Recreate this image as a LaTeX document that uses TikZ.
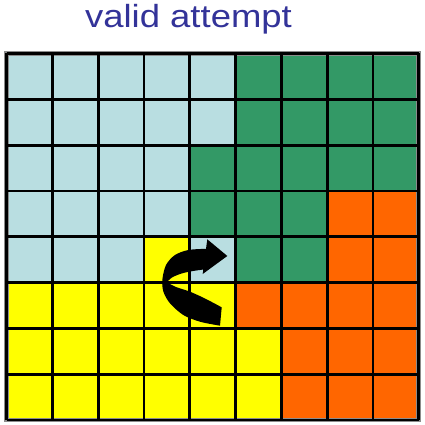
\documentclass[tikz,border=0pt]{standalone}
\usepackage{fontspec}
\setmainfont{Liberation Sans}
\definecolor{cB}{HTML}{B9DEE1}
\definecolor{cG}{HTML}{339966}
\definecolor{cO}{HTML}{FF6600}
\definecolor{cY}{HTML}{FFFF00}
\definecolor{ctitle}{HTML}{333399}
\begin{document}
\begin{tikzpicture}[x=1pt,y=-1pt,
  gridline/.style={draw=black,line width=2.8pt},
  shadowline/.style={draw=black!45,line width=4.6pt},
  titletext/.style={font=\fontsize{32}{38}\selectfont,text=ctitle,inner sep=0pt,anchor=base}]
\useasboundingbox (0,0) rectangle (424,425);
\fill[white] (0,0) rectangle (424,425);
\def\xo{6.5}
\def\yo{53.5}
\def\cw{45.8}
\node[titletext] (title) at (188.5,27.3) {\scalebox{1.14}[1]{valid attempt}};
\foreach \row/\cols in {
  0/{cB,cB,cB,cB,cB,cG,cG,cG,cG},
  1/{cB,cB,cB,cB,cB,cG,cG,cG,cG},
  2/{cB,cB,cB,cB,cG,cG,cG,cG,cG},
  3/{cB,cB,cB,cB,cG,cG,cG,cO,cO},
  4/{cB,cB,cB,cY,cB,cG,cG,cO,cO},
  5/{cY,cY,cY,cY,cY,cO,cO,cO,cO},
  6/{cY,cY,cY,cY,cY,cY,cO,cO,cO},
  7/{cY,cY,cY,cY,cY,cY,cO,cO,cO}}{
  \foreach \c [count=\i from 0] in \cols {
    \fill[\c] ({\xo+\i*\cw},{\yo+\row*\cw}) rectangle ++(\cw,\cw);
  }
}
\draw[shadowline] (\xo,\yo) rectangle ({\xo+9*\cw},{\yo+8*\cw});
\foreach \i in {0,...,9}
  \draw[gridline] ({\xo+\i*\cw},\yo) -- ({\xo+\i*\cw},{\yo+8*\cw});
\foreach \j in {0,...,8}
  \draw[gridline] (\xo,{\yo+\j*\cw}) -- ({\xo+9*\cw},{\yo+\j*\cw});
\fill[black] (221.7,307.3)
  -- plot[smooth] coordinates {(221.7,307.3)(205,298.5)(190,291.7)(176,287)(166.7,282.3)}
  -- plot[smooth] coordinates {(166.7,282.3)(172,277.5)(180,274)(190,271.5)(203.3,269.5)}
  -- (202.7,274) -- (227.3,256) -- (207.3,239.3) -- (206,248.8)
  -- plot[smooth] coordinates {(206,248.8)(188.3,250)(175,255)(166,265)(162.3,280)(163.5,292)(170,303.3)(183.3,315)(200,321.7)(220,325.7)}
  -- cycle;
\end{tikzpicture}
\end{document}
